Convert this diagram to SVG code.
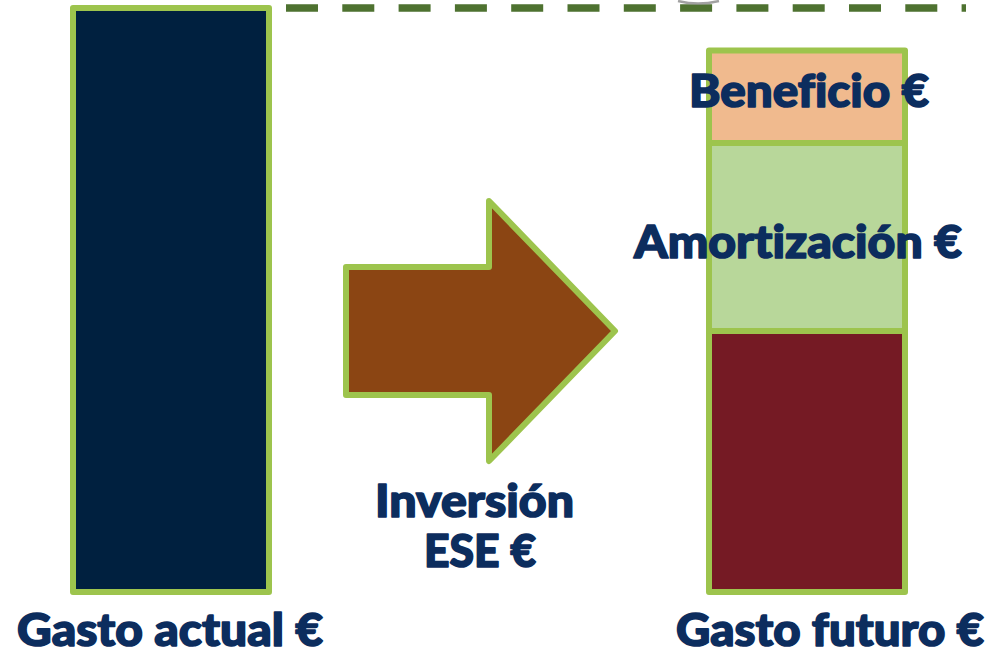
<svg xmlns="http://www.w3.org/2000/svg" width="993" height="657" viewBox="0 0 993 657">
<style>
.bar{stroke:#9DC44D;stroke-width:6;stroke-linejoin:round}
.lbl{font-family:Lato,"Open Sans","Liberation Sans",sans-serif;font-weight:900;font-size:46px;fill:#0C2D5E;stroke:#0C2D5E;stroke-width:1.6;stroke-linejoin:round;text-anchor:middle;font-variant-ligatures:none}
</style>
<rect width="993" height="657" fill="#FFFFFF"/>
<g id="connectors">
<line x1="286" y1="8" x2="966" y2="8" stroke="#4E7230" stroke-width="7.5" stroke-dasharray="32 24.3"/>
<path d="M678,1 Q698,6 719,1" fill="none" stroke="#8A8A8A" stroke-width="2.5" opacity="0.8"/>
</g>
<g id="gasto-actual">
<rect class="bar" x="73" y="8" width="196" height="584" fill="#00203F"/>
<text class="lbl" x="170" y="646" textLength="306" lengthAdjust="spacingAndGlyphs">Gasto actual €</text>
</g>
<g id="inversion">
<polygon class="bar" points="346,267 489,267 489,201 615,331 489,461 489,395 346,395" fill="#8B4513" stroke-linejoin="miter"/>
<text class="lbl" x="474.5" y="517" textLength="199" lengthAdjust="spacingAndGlyphs">Inversión</text>
<text class="lbl" x="480" y="567" textLength="112" lengthAdjust="spacingAndGlyphs">ESE €</text>
</g>
<g id="gasto-futuro">
<rect class="bar" x="709" y="331" width="196" height="261" fill="#751A24"/>
<text class="lbl" x="830" y="646" textLength="308" lengthAdjust="spacingAndGlyphs">Gasto futuro €</text>
</g>
<g id="amortizacion">
<rect class="bar" x="709" y="143" width="196" height="188" fill="#B8D79A"/>
<text class="lbl" x="798" y="258" textLength="328" lengthAdjust="spacingAndGlyphs">Amortización €</text>
</g>
<g id="beneficio">
<rect class="bar" x="709" y="50.5" width="196" height="92.5" fill="#F0BA8E"/>
<text class="lbl" x="809" y="107" textLength="240" lengthAdjust="spacingAndGlyphs">Beneficio €</text>
</g>
</svg>
